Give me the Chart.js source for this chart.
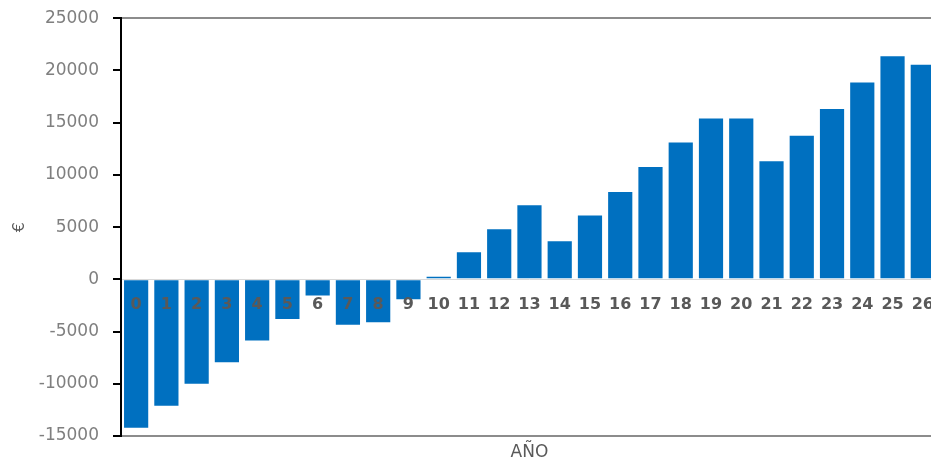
<!DOCTYPE html>
<html>
<head>
<meta charset="utf-8">
<script src="https://cdn.jsdelivr.net/npm/chart.js@4/dist/chart.umd.min.js"></script>
<style>
  html, body { margin: 0; padding: 0; background: #fff; overflow: hidden; }
  #wrap { position: absolute; left: 0; top: -6px; width: 942px; height: 469px; }
</style>
</head>
<body>
<div id="wrap"><canvas id="c"></canvas></div>
<script>
const years = ["0","1","2","3","4","5","6","7","8","9","10","11","12","13","14","15","16","17","18","19","20","21","22","23","24","25","26"];
const cashFlow = [-14200,-12100,-10000,-7950,-5850,-3800,-1550,-4350,-4100,-1900,250,2600,4800,7100,3650,6100,8350,10750,13100,15400,15400,11300,13750,16300,18850,21350,20550];
const yTicks = [-15000,-10000,-5000,0,5000,10000,15000,20000,25000];
const xTitle = "AÑO";
const yTitle = "€";

new Chart(document.getElementById('c'), {
  type: 'bar',
  data: {
    labels: years,
    datasets: [{
      data: cashFlow,
      backgroundColor: '#0070C0',
      borderWidth: 0,
      barPercentage: 0.8,
      categoryPercentage: 1.0,
      xAxisID: 'x'
    }]
  },
  options: {
    responsive: true,
    maintainAspectRatio: false,
    animation: false,
    layout: { padding: 0 },
    plugins: { legend: { display: false }, tooltip: { enabled: false } },
    scales: {
      x: {
        type: 'category',
        position: { y: 0 },
        grid: { display: false },
        border: { display: true, color: '#d9d9d9', width: 1 },
        ticks: { z: 1, color: '#595959', padding: 8, font: { family: 'DejaVu Sans', size: 16, weight: 'bold' }, maxRotation: 0, autoSkip: false }
      },
      xb: {
        type: 'category',
        position: 'bottom',
        grid: { display: false },
        border: { display: true, color: '#8c8c8c', width: 2 },
        ticks: { display: false },
        title: { display: true, text: xTitle, color: '#595959', font: { family: 'DejaVu Sans', size: 17 }, padding: { top: 4, bottom: 0 } },
        afterFit: (s) => { s.height = 27; }
      },
      xt: {
        type: 'category',
        position: 'top',
        grid: { display: false },
        border: { display: true, color: '#8c8c8c', width: 2 },
        ticks: { display: false },
        afterFit: (s) => { s.height = 10; }
      },
      y: {
        min: -15000,
        max: 25000,
        afterBuildTicks: (s) => { s.ticks = yTicks.map(v => ({ value: v })); },
        grid: { drawOnChartArea: false, drawTicks: true, tickLength: 8, color: '#000', lineWidth: 2 },
        border: { display: true, color: '#000', width: 2 },
        ticks: { color: '#7f7f7f', padding: 14, font: { family: 'DejaVu Sans', size: 17 }, callback: (v) => String(v) },
        title: { display: true, text: yTitle, color: '#595959', font: { family: 'DejaVu Sans', size: 16 }, padding: { top: 10, bottom: 0 } },
        afterFit: (s) => { s.width = 121; }
      }
    }
  }
});
</script>
</body>
</html>
